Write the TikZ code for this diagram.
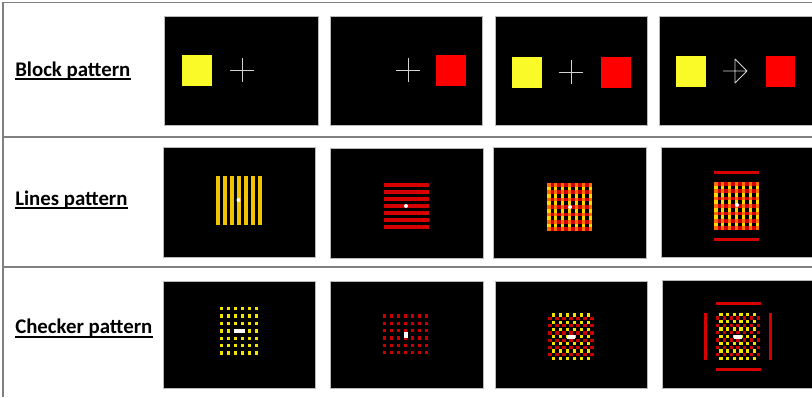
\documentclass[tikz,border=0pt]{standalone}
\usepackage{fontspec}
\setmainfont{Carlito}
\definecolor{tblgray}{RGB}{128,128,128}
\definecolor{blkyellow}{RGB}{250,250,40}
\definecolor{blkred}{RGB}{255,0,0}
\definecolor{bargold}{RGB}{240,196,0}
\definecolor{barred}{RGB}{215,0,0}
\definecolor{gridyellow}{RGB}{255,215,0}
\definecolor{gridorange}{RGB}{255,110,0}
\definecolor{dotyellow}{RGB}{240,228,0}
\definecolor{dotred}{RGB}{200,0,0}
\begin{document}
\begin{tikzpicture}[x=0.025cm, y=-0.025cm,
    rule/.style={draw=tblgray, line width=1.2pt},
    screen/.style={fill=black, draw=gray!55, line width=0.5pt},
    lbl/.style={anchor=base west, inner sep=0pt, font=\bfseries\fontsize{14.8}{17}\selectfont},
    uline/.style={line width=1.3pt},
    fix/.style={draw=gray!35, line width=0.6pt, line join=round}
]
    \useasboundingbox (0,0) rectangle (812,397);

    \draw[rule] (3,397) -- (3,2.5) -- (812,2.5);
    \draw[rule] (3,137) -- (812,137);
    \draw[rule] (3,267) -- (812,267);

    \node[lbl] (lblock) at (15,76) {Block pattern};
    \node[lbl] (llines) at (15,205) {Lines pattern};
    \node[lbl] (lcheck) at (15,333.5) {Checker pattern};
    \foreach \n in {lblock,llines,lcheck}
        \draw[uline] ([yshift=-2.4pt]\n.base west) -- ([yshift=-2.4pt]\n.base east);

    % block pattern
    \draw[screen] (164,16) rectangle (318,125);
    \fill[blkyellow] (182,55) rectangle (212,86);
    \draw[fix] (230,70) -- (254,70) (242,58) -- (242,82);

    \draw[screen] (330,16) rectangle (482,125);
    \draw[fix] (396,70) -- (420,70) (408,58) -- (408,82);
    \fill[blkred] (436,55) rectangle (466,86);

    \draw[screen] (495,16) rectangle (647,125);
    \fill[blkyellow] (512,57) rectangle (542,88);
    \draw[fix] (559,72) -- (583,72) (571,60) -- (571,84);
    \fill[blkred] (601,57) rectangle (631,88);

    \draw[screen] (659,16) rectangle (814,125);
    \fill[blkyellow] (676,56) rectangle (706,87);
    \draw[fix] (723,71) -- (747,71) (735,59) -- (747,71) -- (735,83) -- cycle;
    \fill[blkred] (766,56) rectangle (795,87);

    % lines pattern
    \draw[screen] (163,147) rectangle (315,257);
    \foreach \i in {0,...,6}
        \fill[bargold] ({216+7.08*\i},176) rectangle +(3.5,49);
    \fill[white] (238.5,200) circle (2);

    \draw[screen] (330,148) rectangle (483,258);
    \foreach \j in {0,...,6}
        \fill[barred] (384,{183+7.08*\j}) rectangle +(45,3.5);
    \fill[white] (406,206) circle (2);

    \draw[screen] (493,147) rectangle (646,258);
    \foreach \i in {0,...,6}
        \fill[gridyellow] ({547+6.92*\i},183) rectangle +(3.5,48);
    \foreach \j in {0,...,6}
        \fill[barred] (547,{183+7.4*\j}) rectangle +(45,3.5);
    \foreach \i in {0,...,6}
        \foreach \j in {0,...,6}
            \fill[gridorange] ({547+6.92*\i},{183+7.4*\j}) rectangle +(3.5,3.5);
    \fill[white] (570,207) circle (2);

    \draw[screen] (661,147) rectangle (814,257);
    \foreach \i in {0,...,6}
        \fill[gridyellow] ({714+6.92*\i},182) rectangle +(3.5,48);
    \foreach \j in {0,...,6}
        \fill[barred] (714,{182+7.4*\j}) rectangle +(45,3.5);
    \foreach \i in {0,...,6}
        \foreach \j in {0,...,6}
            \fill[gridorange] ({714+6.92*\i},{182+7.4*\j}) rectangle +(3.5,3.5);
    \fill[barred] (714,170.5) rectangle +(45,3);
    \fill[barred] (714,238) rectangle +(45,3);
    \fill[white] (737,205) circle (2);

    % checker pattern
    \draw[screen] (163,281) rectangle (315,388);
    \foreach \i in {0,...,5}
        \foreach \j in {0,...,6}
            \fill[dotyellow] ({220+7*\i},{307+7.4*\j}) rectangle +(3.3,3.3);
    \fill[white] (234,329.3) rectangle (244.5,332.8);

    \draw[screen] (330,281) rectangle (483,388);
    \foreach \i in {0,...,6}
        \foreach \j in {0,...,5}
            \fill[dotred] ({382.6+7*\i},{314.3+7.33*\j}) rectangle +(3.3,3.3);
    \fill[white] (404.1,332) rectangle (407.5,338);

    \draw[screen] (495,281) rectangle (647,388);
    \foreach \i in {0,...,6}
        \foreach \j in {0,...,5}
            \fill[dotred] ({548.3+7*\i},{316.9+7.2*\j}) rectangle +(3.3,3.3);
    \foreach \i in {0,...,5}
        \foreach \j in {0,...,6}
            \fill[dotyellow] ({551.8+7*\i},{313.3+7.2*\j}) rectangle +(3.3,3.3);
    \fill[white] (566.5,335) rectangle (575,338.5);

    \draw[screen] (662,280) rectangle (814,388);
    \foreach \i in {0,...,6}
        \foreach \j in {0,...,5}
            \fill[dotred] ({716+6.77*\i},{316.3+7.33*\j}) rectangle +(3.3,3.3);
    \foreach \i in {0,...,5}
        \foreach \j in {0,...,6}
            \fill[dotyellow] ({719.3+6.7*\i},{312.6+7.33*\j}) rectangle +(3.3,3.3);
    \fill[white] (734,335.3) rectangle (742,338.7);
    \fill[barred] (716,302) rectangle (760.7,305);
    \fill[barred] (716,368) rectangle (760.7,371);
    \fill[barred] (704.2,312.7) rectangle (707.2,360);
    \fill[barred] (769.2,312.7) rectangle (772.2,360);
\end{tikzpicture}
\end{document}
